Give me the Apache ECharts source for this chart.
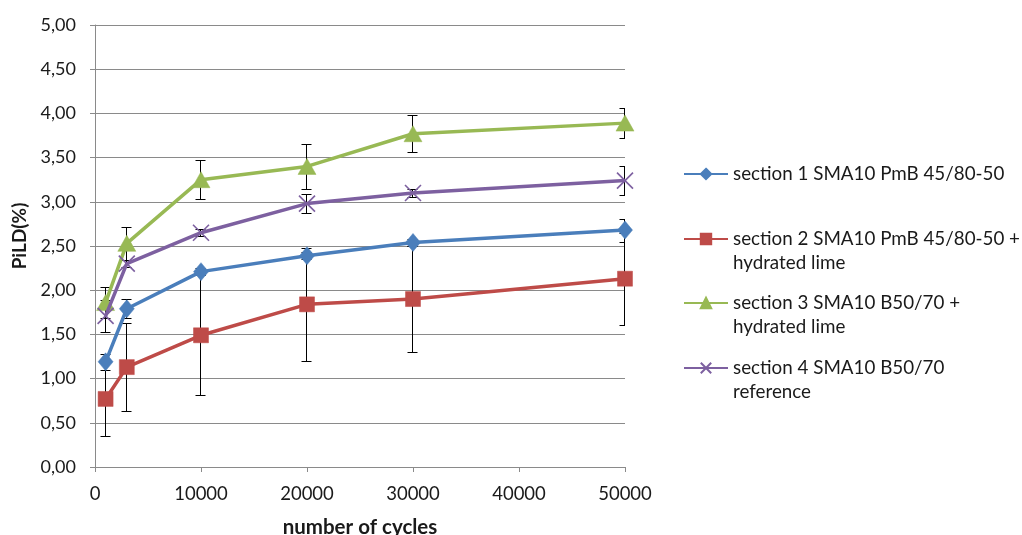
<!DOCTYPE html>
<html>
<head>
<meta charset="utf-8">
<script src="https://cdn.jsdelivr.net/npm/echarts@6/dist/echarts.min.js"></script>
<style>html,body{margin:0;padding:0;background:#fff}#c{width:1022px;height:535px}</style>
</head>
<body>
<div id="c"></div>
<script>
// ---- data ----
var cycles = [1000, 3000, 10000, 20000, 30000, 50000];
var seriesNames = [
  'section 1 SMA10 PmB 45/80-50',
  'section 2 SMA10 PmB 45/80-50 + hydrated lime',
  'section 3 SMA10 B50/70 + hydrated lime',
  'section 4 SMA10 B50/70 reference'
];
var legendLines = [
  ['section 1 SMA10 PmB 45/80-50'],
  ['section 2 SMA10 PmB 45/80-50 +', 'hydrated lime'],
  ['section 3 SMA10 B50/70 +', 'hydrated lime'],
  ['section 4 SMA10 B50/70', 'reference']
];
var s1 = [1.19, 1.79, 2.21, 2.39, 2.54, 2.68];
var s2 = [0.77, 1.13, 1.49, 1.84, 1.90, 2.13];
var s3 = [1.86, 2.53, 3.25, 3.40, 3.77, 3.89];
var s4 = [1.71, 2.30, 2.65, 2.98, 3.10, 3.24];
var e1 = [0.09, 0.11, 0.04, 0.04, 0.04, 0.13];
var e2 = [0.42, 0.50, 0.68, 0.64, 0.60, 0.52];
var e3 = [0.18, 0.19, 0.22, 0.25, 0.21, 0.17];
var e4 = [0.18, 0.04, 0.04, 0.11, 0.05, 0.16];
var yTicks = [0, 0.5, 1, 1.5, 2, 2.5, 3, 3.5, 4, 4.5, 5];
var xTicks = [0, 10000, 20000, 30000, 40000, 50000];

// ---- styles ----
var colors = ['#4A7EBB', '#BE4B48', '#98B954', '#7D60A0'];
var symbols = ['diamond', 'rect', 'triangle', 'path://M0,0L10,10M10,0L0,10'];
var symbolSizes = [[15, 18], 15, [18, 16], 16];
var FONT = 'Lato';
var TXT = '#1a1a1a';
var GRID = '#8a8a8a';

function pairs(ys) { return cycles.map(function (x, i) { return [x, ys[i]]; }); }
function triples(ys, es) { return cycles.map(function (x, i) { return [x, ys[i], es[i]]; }); }

function errItem(params, api) {
  var x = api.value(0), y = api.value(1), e = api.value(2);
  var t = api.coord([x, y + e]), b = api.coord([x, y - e]);
  var cx = Math.round(t[0]) - 0.5, ty = Math.round(t[1]) + 0.5, by = Math.round(b[1]) + 0.5;
  var hw = 5;
  var st = { stroke: '#000', lineWidth: 1, fill: null };
  return {
    type: 'group',
    children: [
      { type: 'line', shape: { x1: cx, y1: ty, x2: cx, y2: by }, style: st },
      { type: 'line', shape: { x1: cx - hw, y1: ty, x2: cx + hw, y2: ty }, style: st },
      { type: 'line', shape: { x1: cx - hw, y1: by, x2: cx + hw, y2: by }, style: st }
    ]
  };
}

var values = [s1, s2, s3, s4];
var errs = [e1, e2, e3, e4];
var series = [];
values.forEach(function (v, i) {
  series.push({
    name: seriesNames[i] + ' err',
    type: 'custom',
    renderItem: errItem,
    data: triples(v, errs[i]),
    clip: true,
    z: 1,
    silent: true,
    encode: { x: 0, y: 1 }
  });
});
values.forEach(function (v, i) {
  var isX = i === 3;
  series.push({
    name: seriesNames[i],
    type: 'line',
    data: pairs(v),
    symbol: symbols[i],
    symbolSize: symbolSizes[i],
    z: 3 + i,
    lineStyle: { color: colors[i], width: 3.5 },
    itemStyle: isX ? { color: colors[i], borderColor: colors[i], borderWidth: 1.6 } : { color: colors[i], borderColor: colors[i], borderWidth: 0.5 },
    emphasis: { disabled: true },
    animation: false
  });
});

var legendTops = [162, 203, 267, 332];
var legends = legendLines.map(function (lines, i) {
  return {
    left: 683,
    top: legendTops[i],
    orient: 'vertical',
    padding: 0,
    itemWidth: 44,
    itemHeight: 13,
    selectedMode: false,
    data: [seriesNames[i]],
    formatter: function () { return lines.length > 1 ? '\n' + lines.join('\n') : lines[0]; },
    textStyle: { fontFamily: FONT, fontSize: 18.8, color: TXT, lineHeight: 24 }
  };
});

var chart = echarts.init(document.getElementById('c'), null, { renderer: 'canvas' });
chart.setOption({
  animation: false,
  backgroundColor: '#fff',
  grid: { left: 95, right: 397, top: 25, bottom: 68, containLabel: false, outerBoundsMode: 'none' },
  legend: legends,
  xAxis: {
    type: 'value',
    min: xTicks[0],
    max: xTicks[xTicks.length - 1],
    interval: xTicks[1] - xTicks[0],
    name: 'number of cycles',
    nameLocation: 'middle',
    nameGap: 50,
    nameTextStyle: { fontFamily: FONT, fontSize: 20.5, fontWeight: 'bold', color: TXT },
    axisLine: { show: true, lineStyle: { color: GRID, width: 1 } },
    axisTick: { show: true, length: 5, lineStyle: { color: GRID } },
    axisLabel: { fontFamily: FONT, fontSize: 18.5, color: TXT, margin: 18,
      formatter: function (v) { return String(v); } },
    splitLine: { show: false }
  },
  yAxis: {
    type: 'value',
    min: yTicks[0],
    max: yTicks[yTicks.length - 1],
    interval: yTicks[1] - yTicks[0],
    name: 'PiLD(%)',
    nameLocation: 'middle',
    nameRotate: 90,
    nameGap: 52,
    nameTextStyle: { fontFamily: FONT, fontSize: 19, fontWeight: 'bold', color: TXT, padding: [0, 0, 0, 20] },
    axisLine: { show: true, lineStyle: { color: GRID, width: 1 } },
    axisTick: { show: true, length: 5, lineStyle: { color: GRID } },
    axisLabel: {
      fontFamily: FONT, fontSize: 18, color: TXT, margin: 19,
      formatter: function (v) { return v.toFixed(2).replace('.', ','); }
    },
    splitLine: { show: true, lineStyle: { color: GRID, width: 1 } }
  },
  series: series
});
</script>
</body>
</html>
